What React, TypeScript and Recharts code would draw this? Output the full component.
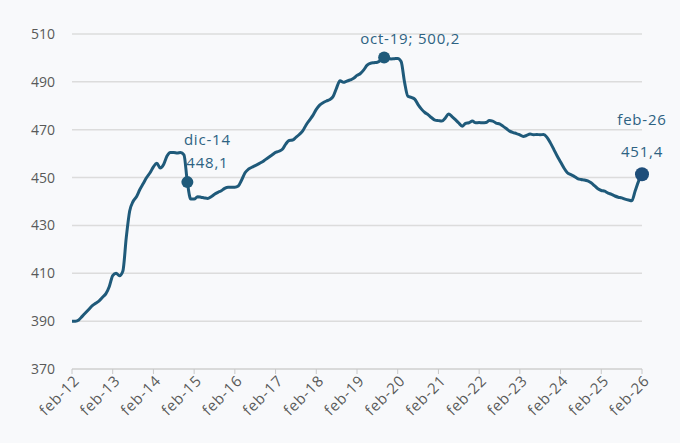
import { CartesianGrid, Line, LineChart, ReferenceDot, XAxis, YAxis } from 'recharts';

const MESES = ['ene', 'feb', 'mar', 'abr', 'may', 'jun', 'jul', 'ago', 'sep', 'oct', 'nov', 'dic'];

// valores mensuales por año (2012 arranca en feb, 2026 termina en feb)
const v2012 = [390, 390, 390.5, 392, 393.5, 395, 396.5, 397.5, 398.5, 400, 401.5];
const v2013 = [404.5, 409, 410, 409, 411, 425, 436, 440, 442, 445, 447.5, 450];
const v2014 = [452, 454.5, 456, 454, 455.5, 459, 460.5, 460.5, 460.3, 460.5, 459.5, 448.1];
const v2015 = [441, 441, 442, 441.8, 441.5, 441.3, 442, 443, 443.8, 444.5, 445.5, 446];
const v2016 = [446, 446, 446.5, 449, 452, 453.5, 454.3, 455, 455.7, 456.5, 457.5, 458.5];
const v2017 = [459.5, 460.5, 461, 461.8, 464, 465.5, 465.7, 466.8, 468, 469.5, 472, 474];
const v2018 = [476, 478.5, 480.3, 481.3, 482, 482.6, 484, 487.5, 490.5, 489.8, 490.3, 490.8];
const v2019 = [491.5, 492.7, 493.5, 495, 497, 497.8, 498, 498.2, 499, 500.2, 500, 499.6];
const v2020 = [499.7, 499.8, 498.5, 490, 484, 483.5, 482.8, 480.5, 478.6, 477.2, 476.2, 475];
const v2021 = [474, 473.8, 473.6, 474.8, 476.6, 475.5, 474.2, 472.8, 471.5, 472.6, 472.9, 473.6];
const v2022 = [472.9, 473, 472.9, 473, 473.8, 473.6, 472.8, 472.4, 471.5, 470.5, 469.4, 468.8];
const v2023 = [468.4, 467.8, 467.2, 467.6, 468.2, 467.9, 468, 467.9, 468, 466.8, 464.5, 461.8];
const v2024 = [459, 456.5, 454, 452, 451.2, 450.5, 449.6, 449.2, 449, 448.6, 447.8, 446.6];
const v2025 = [445.3, 444.6, 444.3, 443.5, 443, 442.3, 441.8, 441.5, 441, 440.6, 440.3, 444.5];
const v2026 = [448.5, 451.4];

const porAnio: [number, number[], number][] = [
  [12, v2012, 1], [13, v2013, 0], [14, v2014, 0], [15, v2015, 0], [16, v2016, 0],
  [17, v2017, 0], [18, v2018, 0], [19, v2019, 0], [20, v2020, 0], [21, v2021, 0],
  [22, v2022, 0], [23, v2023, 0], [24, v2024, 0], [25, v2025, 0], [26, v2026, 0],
];

const X_TICKS = ['feb-12', 'feb-13', 'feb-14', 'feb-15', 'feb-16', 'feb-17', 'feb-18', 'feb-19',
  'feb-20', 'feb-21', 'feb-22', 'feb-23', 'feb-24', 'feb-25', 'feb-26'];
const Y_TICKS = [370, 390, 410, 430, 450, 470, 490, 510];

const DESTACADOS = ['dic-14', 'oct-19', 'feb-26'];

const data = porAnio.flatMap(([anio, vals, inicio]) =>
  vals.map((v, i) => ({ mes: `${MESES[inicio + i]}-${anio}`, valor: v })),
);

const fmt = (v: number) => v.toFixed(1).replace('.', ',');

const TEXT_COLOR = '#2d6282';
const FONT = "'Open Sans', sans-serif";

const XTick = ({ x, y, payload }: any) => (
  <g transform={`translate(${x},${y})`}>
    <text x={0} y={0} dx={2} dy={10} textAnchor='end' transform='rotate(-45)'
      fill='#595959' fontSize={15} letterSpacing={0.8} fontFamily={FONT}>
      {payload.value}
    </text>
  </g>
);

const Marca = (mes: string, valor: number) => (props: any) => {
  const { cx, cy } = props;
  const txt = { fill: TEXT_COLOR, fontSize: 15, letterSpacing: 0.8, fontFamily: FONT, textAnchor: 'middle' as const };
  if (mes === 'oct-19') {
    return (
      <g>
        <circle cx={cx} cy={cy} r={6} fill='#1f5a7a' />
        <text x={cx + 26} y={cy - 13} {...txt}>
          {`${mes}; ${fmt(valor)}`}
        </text>
      </g>
    );
  }
  const dx = mes === 'dic-14' ? 20 : 0;
  const big = mes === 'feb-26';
  return (
    <g>
      <circle cx={cx} cy={cy} r={big ? 7 : 6} fill={big ? '#1f4e7a' : '#1f5a7a'} />
      <text x={cx + dx} y={cy - (big ? 49 : 37)} {...txt}>
        {mes}
      </text>
      <text x={cx + dx} y={cy - (big ? 17 : 14)} {...txt}>
        {fmt(valor)}
      </text>
    </g>
  );
};

export default function App() {
  return (
    <div style={{ position: 'absolute', left: 0, top: 0, width: 680, height: 443, background: '#f8f9fb' }}>
      <LineChart width={680} height={443} data={data} margin={{ top: 34, right: 38, bottom: 4, left: 0 }}>
        <CartesianGrid vertical={false} stroke='#dcdcdc' strokeWidth={1.5} />
        <XAxis
          dataKey='mes'
          ticks={X_TICKS}
          interval={0}
          height={70}
          tick={<XTick />}
          tickSize={5}
          stroke='#d0d0d0'
          tickLine={{ stroke: '#c8c8c8' }}
        />
        <YAxis
          domain={[370, 510]}
          ticks={Y_TICKS}
          width={72}
          axisLine={false}
          tickLine={false}
          tickMargin={11}
          tick={{ fill: '#595959', fontSize: 14, fontFamily: FONT }}
        />
        <Line
          type='monotone'
          dataKey='valor'
          stroke='#1f5a7a'
          strokeWidth={3}
          dot={false}
          activeDot={false}
          isAnimationActive={false}
        />
        {DESTACADOS.map((mes) => {
          const punto = data.find((d) => d.mes === mes)!;
          return (
            <ReferenceDot key={mes} x={mes} y={punto.valor} shape={Marca(mes, punto.valor)} />
          );
        })}
      </LineChart>
    </div>
  );
}
